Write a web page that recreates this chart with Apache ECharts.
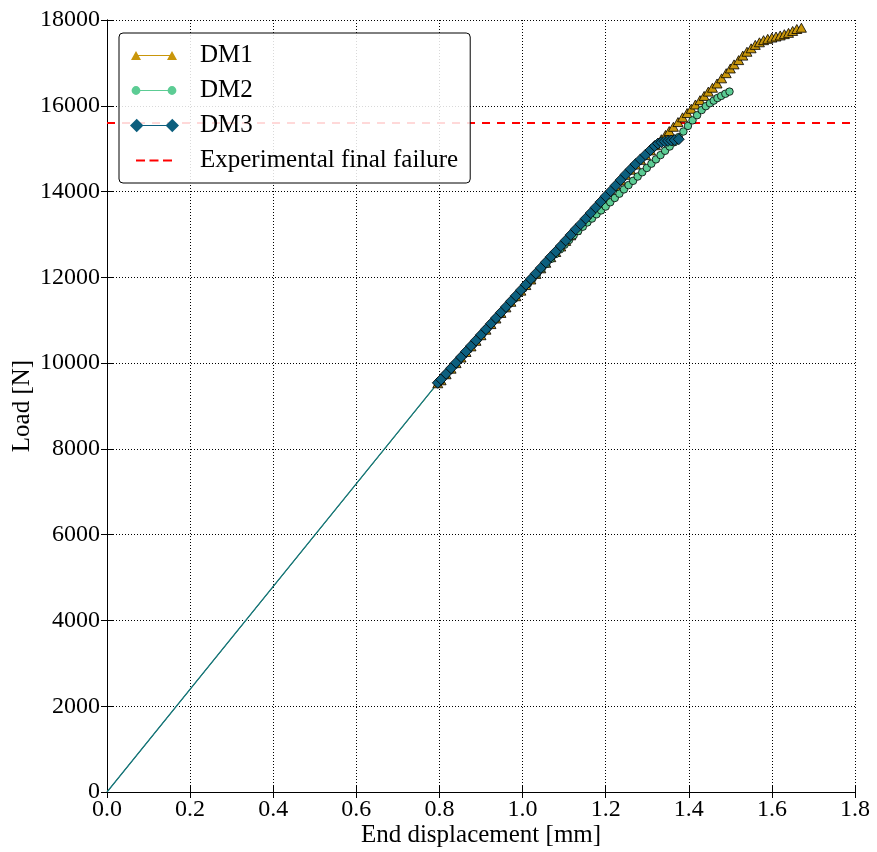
<!DOCTYPE html>
<html>
<head>
<meta charset="utf-8">
<title>Load vs end displacement</title>
<script src="https://cdn.jsdelivr.net/npm/echarts@6/dist/echarts.min.js"></script>
<style>
  html, body { margin: 0; padding: 0; background: #fff; }
  #chart { width: 877px; height: 852px; }
</style>
</head>
<body>
<div id="chart"></div>
<script>
// [end displacement (mm), load (N)]
const dm1 = [
  [0, 0], [0.796, 9530], [0.804, 9600], [0.816, 9740], [0.828, 9870], [0.840, 10000],
  [0.852, 10130], [0.864, 10260], [0.876, 10390], [0.888, 10520], [0.900, 10650],
  [0.912, 10780], [0.924, 10910], [0.936, 11040], [0.948, 11170], [0.960, 11300],
  [0.972, 11430], [0.984, 11560], [0.996, 11690], [1.008, 11820], [1.020, 11950],
  [1.032, 12080], [1.044, 12210], [1.056, 12340], [1.068, 12470], [1.080, 12590],
  [1.092, 12720], [1.104, 12850], [1.116, 12980], [1.128, 13110], [1.140, 13230],
  [1.152, 13360], [1.164, 13490], [1.176, 13620], [1.188, 13750], [1.200, 13880],
  [1.212, 14000], [1.224, 14130], [1.236, 14260], [1.248, 14390], [1.260, 14510],
  [1.272, 14630], [1.284, 14740], [1.296, 14850], [1.308, 14960], [1.320, 15080],
  [1.334, 15220], [1.344, 15320], [1.353, 15410], [1.363, 15510], [1.374, 15620],
  [1.385, 15730], [1.396, 15830], [1.406, 15930], [1.416, 16030], [1.427, 16130],
  [1.437, 16230], [1.447, 16330], [1.457, 16420], [1.468, 16520], [1.479, 16640],
  [1.490, 16760], [1.500, 16870], [1.509, 16965], [1.520, 17065], [1.530, 17170],
  [1.540, 17260], [1.550, 17340], [1.560, 17420], [1.570, 17480], [1.580, 17530],
  [1.590, 17560], [1.600, 17590], [1.610, 17615], [1.620, 17640], [1.630, 17670],
  [1.640, 17700], [1.650, 17745], [1.660, 17790], [1.671, 17820]
];
const dm2 = [
  [0, 0], [0.796, 9530], [0.804, 9600], [0.815, 9720], [0.826, 9840], [0.837, 9960],
  [0.848, 10080], [0.859, 10200], [0.870, 10320], [0.881, 10440], [0.892, 10560],
  [0.903, 10680], [0.914, 10800], [0.925, 10920], [0.936, 11030], [0.947, 11150],
  [0.958, 11270], [0.969, 11390], [0.980, 11500], [0.991, 11620], [1.002, 11740],
  [1.013, 11850], [1.024, 11970], [1.035, 12080], [1.046, 12200], [1.057, 12310],
  [1.068, 12430], [1.079, 12540], [1.090, 12650], [1.101, 12760], [1.112, 12870],
  [1.123, 12980], [1.134, 13080], [1.145, 13180], [1.156, 13280], [1.167, 13370],
  [1.178, 13470], [1.189, 13560], [1.200, 13650], [1.211, 13750], [1.222, 13850],
  [1.233, 13950], [1.244, 14050], [1.255, 14150], [1.266, 14250], [1.277, 14350],
  [1.288, 14450], [1.299, 14550], [1.310, 14650], [1.321, 14750], [1.332, 14850],
  [1.343, 14950], [1.354, 15050], [1.365, 15150], [1.376, 15270], [1.387, 15400],
  [1.398, 15530], [1.409, 15660], [1.420, 15780], [1.431, 15900], [1.441, 15990],
  [1.451, 16060], [1.460, 16120], [1.469, 16180], [1.478, 16230], [1.488, 16280],
  [1.498, 16330]
];
const dm3 = [
  [0, 0], [0.796, 9540], [0.804, 9620], [0.816, 9750], [0.828, 9880], [0.840, 10010],
  [0.852, 10140], [0.864, 10270], [0.876, 10400], [0.888, 10530], [0.900, 10660],
  [0.912, 10790], [0.924, 10920], [0.936, 11050], [0.948, 11180], [0.960, 11310],
  [0.972, 11440], [0.984, 11570], [0.996, 11700], [1.008, 11830], [1.020, 11960],
  [1.032, 12090], [1.044, 12220], [1.056, 12350], [1.068, 12480], [1.080, 12600],
  [1.092, 12730], [1.104, 12860], [1.116, 12990], [1.128, 13120], [1.140, 13240],
  [1.152, 13370], [1.164, 13500], [1.176, 13630], [1.188, 13760], [1.200, 13890],
  [1.212, 14010], [1.224, 14140], [1.236, 14270], [1.248, 14400], [1.260, 14520],
  [1.272, 14640], [1.284, 14750], [1.296, 14860], [1.308, 14970], [1.318, 15060],
  [1.326, 15120], [1.334, 15150], [1.342, 15170], [1.350, 15180], [1.358, 15190],
  [1.366, 15200], [1.376, 15220]
];
const failureLoad = 15600;
const xTicks = [0, 1.8, 0.2];      // min, max, step
const yTicks = [0, 18000, 2000];

const seriesNames = ['DM1', 'DM2', 'DM3', 'Experimental final failure'];

// legend icons: marker - line - marker, like the original plot legend.
// the box is 65 wide so the text lands where matplotlib put it (text gap is fixed at 5 in echarts)
const anchors = 'M0,0L0,0.001Z M65,14L65,13.999Z ';
const link = 'M6,6.4L42,6.4L42,7.6L6,7.6Z ';
const icons = {
  DM1: 'path://' + anchors + link + 'M1,11.5L6,2.5L11,11.5Z M37,11.5L42,2.5L47,11.5Z',
  DM2: 'path://' + anchors + link +
    'M1.6,7A4.4,4.4,0,1,1,10.4,7A4.4,4.4,0,1,1,1.6,7Z M37.6,7A4.4,4.4,0,1,1,46.4,7A4.4,4.4,0,1,1,37.6,7Z',
  DM3: 'path://' + anchors + link + 'M-0.8,7L6,0.2L12.8,7L6,13.8Z M35.2,7L42,0.2L48.8,7L42,13.8Z',
  'Experimental final failure': 'path://' + anchors + 'M6,6L15,6L15,8L6,8Z M19.5,6L28.5,6L28.5,8L19.5,8Z M33,6L42,6L42,8L33,8Z'
};

const serif = 'Liberation Serif';
const chart = echarts.init(document.getElementById('chart'), null, { renderer: 'canvas' });

function hideOrigin(data) {
  return data.map((p, i) => i === 0 ? { value: p, symbol: 'none' } : p);
}

const frameAxis = {
  axisLine: { show: true, lineStyle: { color: '#000', width: 1 } },
  axisTick: { show: true, inside: true, length: 6, lineStyle: { color: '#000' } },
  axisLabel: { show: false },
  splitLine: { show: false }
};

const option = {
  animation: false,
  backgroundColor: '#fff',
  grid: { left: 107, right: 22, top: 20, bottom: 60, containLabel: false, outerBoundsMode: 'none' },
  legend: {
    orient: 'vertical',
    left: 119,
    top: 33,
    padding: [10, 12, 10, 11],
    itemWidth: 65,
    itemHeight: 14,
    itemGap: 10,
    selectedMode: false,
    backgroundColor: 'rgba(255,255,255,0.85)',
    borderColor: '#000',
    borderWidth: 1,
    borderRadius: 4,
    itemStyle: { borderWidth: 0 },
    textStyle: { fontFamily: serif, fontSize: 25, color: '#000', lineHeight: 25 },
    data: seriesNames.map(n => ({ name: n, icon: icons[n] }))
  },
  xAxis: [{
    type: 'value',
    min: xTicks[0], max: xTicks[1], interval: xTicks[2],
    name: 'End displacement [mm]',
    nameLocation: 'middle',
    nameGap: 31,
    nameMoveOverlap: false,
    nameTextStyle: { fontFamily: serif, fontSize: 25, color: '#000' },
    axisLine: { show: true, lineStyle: { color: '#000', width: 1 } },
    axisTick: { show: true, inside: true, length: 6, lineStyle: { color: '#000' } },
    axisLabel: {
      fontFamily: serif, fontSize: 24, color: '#000', margin: 6,
      formatter: v => v.toFixed(1)
    },
    splitLine: { show: true, lineStyle: { color: '#000', type: [1, 2], width: 1 } }
  }, Object.assign({
    type: 'value', position: 'top',
    min: xTicks[0], max: xTicks[1], interval: xTicks[2]
  }, frameAxis)],
  yAxis: [{
    type: 'value',
    min: yTicks[0], max: yTicks[1], interval: yTicks[2],
    name: 'Load [N]',
    nameLocation: 'middle',
    nameGap: 72,
    nameMoveOverlap: false,
    nameTextStyle: { fontFamily: serif, fontSize: 25, color: '#000' },
    axisLine: { show: true, lineStyle: { color: '#000', width: 1 } },
    axisTick: { show: true, inside: true, length: 6, lineStyle: { color: '#000' } },
    axisLabel: {
      fontFamily: serif, fontSize: 24, color: '#000', margin: 7,
      formatter: v => String(v)
    },
    splitLine: { show: true, lineStyle: { color: '#000', type: [1, 2], width: 1 } }
  }, Object.assign({
    type: 'value', position: 'right',
    min: yTicks[0], max: yTicks[1], interval: yTicks[2]
  }, frameAxis)],
  series: [
    {
      name: 'DM1',
      type: 'line',
      data: hideOrigin(dm1),
      symbol: 'triangle',
      symbolSize: [10, 9],
      itemStyle: { color: '#c9960b', borderColor: '#000', borderWidth: 0.8 },
      lineStyle: { color: '#c9960b', width: 1 }
    },
    {
      name: 'DM2',
      type: 'line',
      data: hideOrigin(dm2),
      symbol: 'circle',
      symbolSize: 7.5,
      itemStyle: { color: '#5ccc94', borderColor: '#000', borderWidth: 0.8 },
      lineStyle: { color: '#5ccc94', width: 1 }
    },
    {
      name: 'DM3',
      type: 'line',
      data: hideOrigin(dm3),
      symbol: 'diamond',
      symbolSize: 11,
      itemStyle: { color: '#0c5f7e', borderColor: '#000', borderWidth: 0.8 },
      lineStyle: { color: '#14737f', width: 1.2 }
    },
    {
      name: 'Experimental final failure',
      type: 'line',
      data: [[xTicks[0], failureLoad], [xTicks[1], failureLoad]],
      symbol: 'none',
      silent: true,
      itemStyle: { color: '#ff0000' },
      lineStyle: { color: '#ff0000', width: 2, type: [8, 7] }
    }
  ]
};

chart.setOption(option);
</script>
</body>
</html>
